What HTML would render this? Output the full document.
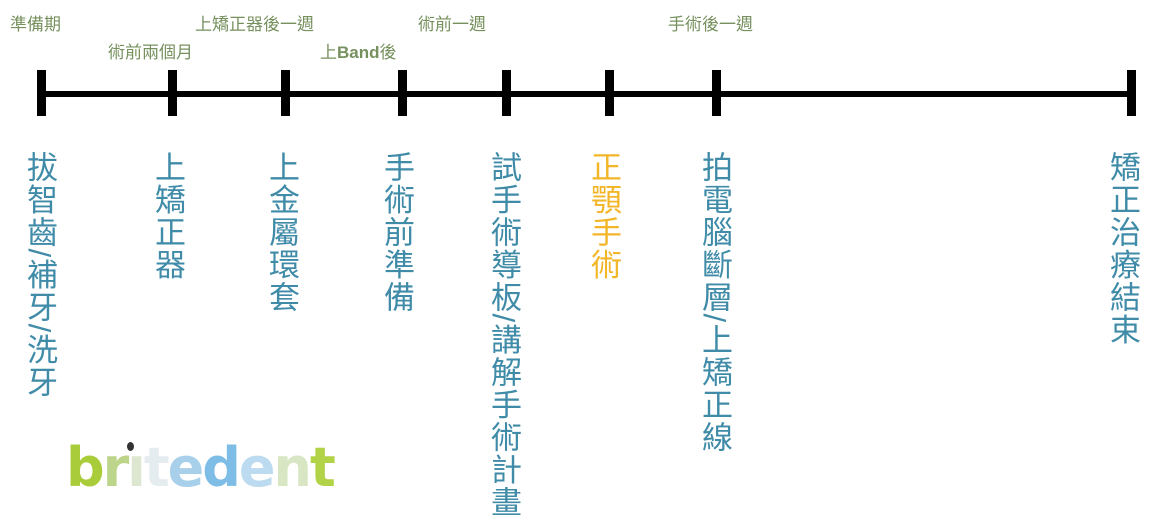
<!DOCTYPE html>
<html><head><meta charset="utf-8"><style>
body{margin:0;width:1155px;height:526px;background:#fff;position:relative;overflow:hidden;font-family:"Liberation Sans","Noto Sans CJK TC",sans-serif}
.t{position:absolute;color:#76905e;font-size:17px;line-height:17px;white-space:nowrap}
.v{position:absolute;top:151px;writing-mode:vertical-rl;font-size:31px;line-height:31px;color:#3f8ba8;font-family:"Liberation Sans","Noto Sans CJK TC",sans-serif;letter-spacing:1.5px;white-space:nowrap}
.tick{position:absolute;top:70px;width:9px;height:46px;background:#000}
.logo{position:absolute;left:66px;top:441px;font-family:"DejaVu Sans",sans-serif;font-weight:bold;font-size:54px;letter-spacing:-2px;line-height:54px}
</style></head><body>
<div style="position:absolute;left:41px;top:91px;width:1094px;height:6px;background:#000"></div>
<div class="tick" style="left:37px"></div>
<div class="tick" style="left:168px"></div>
<div class="tick" style="left:281px"></div>
<div class="tick" style="left:398px"></div>
<div class="tick" style="left:502px"></div>
<div class="tick" style="left:605px"></div>
<div class="tick" style="left:712px"></div>
<div class="tick" style="left:1127px"></div>

<div class="t" style="left:10px;top:16px">準備期</div>
<div class="t" style="left:108px;top:44px">術前兩個月</div>
<div class="t" style="left:195px;top:16px">上矯正器後一週</div>
<div class="t" style="left:320px;top:44px">上<b>Band</b>後</div>
<div class="t" style="left:418px;top:16px">術前一週</div>
<div class="t" style="left:668px;top:16px">手術後一週</div>

<div class="v" style="left:24px">拔智齒/補牙/洗牙</div>
<div class="v" style="left:152px">上矯正器</div>
<div class="v" style="left:266px">上金屬環套</div>
<div class="v" style="left:381px">手術前準備</div>
<div class="v" style="left:488px">試手術導板/講解手術計畫</div>
<div class="v" style="left:588px;color:#f2b628">正顎手術</div>
<div class="v" style="left:699px">拍電腦斷層/上矯正線</div>
<div class="v" style="left:1107px">矯正治療結束</div>

<div class="logo"><span style="color:#a9cc3a">b</span><span style="color:#bcd58a">r</span><span style="color:#dce6d0">ı</span><span style="color:#e4ecf0">t</span><span style="color:#a9d0ea">e</span><span style="color:#7dbde6">d</span><span style="color:#bcdaf0">e</span><span style="color:#d8e6c4">n</span><span style="color:#b2d248">t</span></div>
<div style="position:absolute;left:127px;top:442px;width:7px;height:9px;border-radius:50%;background:#333"></div>
</body></html>
